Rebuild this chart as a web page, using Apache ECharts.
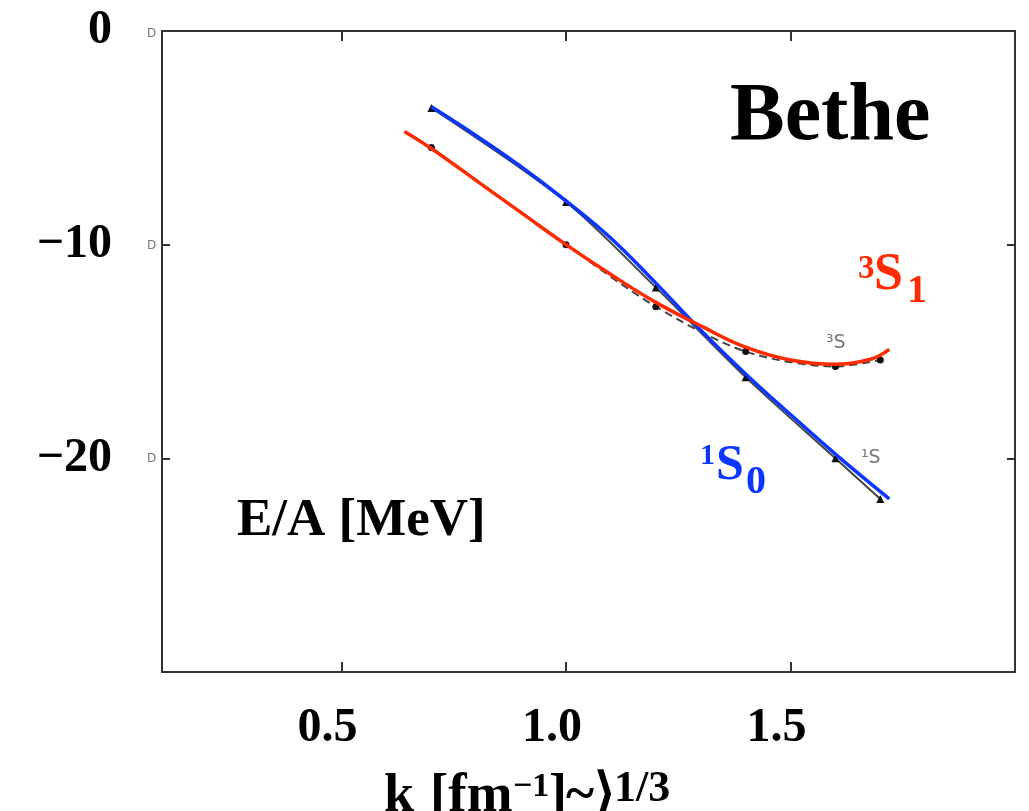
<!DOCTYPE html>
<html>
<head>
<meta charset="utf-8">
<script src="https://cdn.jsdelivr.net/npm/echarts@6/dist/echarts.min.js"></script>
<style>
  html, body { margin: 0; padding: 0; background: #fff; }
  #chart { width: 1029px; height: 811px; }
</style>
</head>
<body>
<div id="chart"></div>
<script>
// scanned data points (Bethe), k_F in fm^-1, E/A in MeV
const kF = [0.7, 1.0, 1.2, 1.4, 1.6, 1.7];
const scan1S0 = [-3.6, -8.0, -12.0, -16.2, -20.0, -21.9];
const scan3S1 = [-5.45, -10.0, -12.9, -15.0, -15.7, -15.4];

// coloured overlay curves
const fit1S0X = [0.7, 0.8, 0.9, 1.0, 1.1, 1.2, 1.3, 1.4, 1.5, 1.6, 1.72];
const fit1S0Y = [-3.55, -4.9, -6.35, -7.95, -9.7, -11.8, -14.0, -16.05, -17.95, -19.8, -21.9];
const fit3S1X = [0.64, 0.7, 0.8, 0.9, 1.0, 1.1, 1.2, 1.3, 1.4, 1.5, 1.6, 1.68, 1.72];
const fit3S1Y = [-4.7, -5.5, -7.0, -8.5, -10.0, -11.4, -12.7, -13.8, -14.8, -15.4, -15.6, -15.35, -14.9];

const xTicks = [0.5, 1.0, 1.5];
const yTicks = [0, -10, -20];
const yInnerTicks = [-10, -20];

const serif = '"Liberation Serif", "Times New Roman", serif';
const BLUE = '#0a36ff';
const RED = '#ff2a00';
const FRAME = '#333';

const zip = (xs, ys) => xs.map((x, i) => [x, ys[i]]);

function txt(x, y, text, size, color) {
  return {
    type: 'text',
    z: 50,
    style: {
      x: x, y: y, text: text,
      fill: color || '#000',
      font: `bold ${size}px ${serif}`,
      align: 'left',
      verticalAlign: 'middle'
    }
  };
}

function scanTxt(x, y, text, size) {
  return {
    type: 'text',
    z: 5,
    style: {
      x: x, y: y, text: text, fill: '#777',
      font: `${size}px "DejaVu Sans", sans-serif`,
      align: 'left', verticalAlign: 'middle'
    }
  };
}

const chart = echarts.init(document.getElementById('chart'), null, { renderer: 'canvas' });

const opt = {
  animation: false,
  backgroundColor: '#fff',
  grid: { left: 162, top: 31, right: 14, bottom: 139, containLabel: false },
  xAxis: [{
    type: 'value', min: 0.1, max: 2.0, position: 'bottom',
    splitLine: { show: false },
    axisLine: { show: true, onZero: false, lineStyle: { color: FRAME, width: 2 } },
    axisTick: { show: true, inside: true, length: 10, customValues: xTicks, lineStyle: { color: FRAME, width: 2 } },
    axisLabel: {
      show: true, customValues: xTicks, margin: 33,
      formatter: (v) => v.toFixed(1),
      color: '#000', fontFamily: serif, fontWeight: 'bold', fontSize: 48,
      padding: [0, 28, 0, 0]
    }
  }, {
    type: 'value', min: 0.1, max: 2.0, position: 'top',
    splitLine: { show: false },
    axisLine: { show: true, onZero: false, lineStyle: { color: FRAME, width: 2 } },
    axisTick: { show: true, inside: true, length: 10, customValues: xTicks, lineStyle: { color: FRAME, width: 2 } },
    axisLabel: { show: false }
  }],
  yAxis: [{
    type: 'value', min: -30, max: 0, position: 'left',
    splitLine: { show: false },
    axisLine: { show: true, onZero: false, lineStyle: { color: FRAME, width: 2 } },
    axisTick: { show: true, inside: true, length: 8, customValues: yInnerTicks, lineStyle: { color: FRAME, width: 2 } },
    axisLabel: {
      show: true, customValues: yTicks, margin: 50,
      formatter: (v) => (v < 0 ? '\u2212' + Math.abs(v) : String(v)),
      color: '#000', fontFamily: serif, fontWeight: 'bold', fontSize: 48
    }
  }, {
    type: 'value', min: -30, max: 0, position: 'right',
    splitLine: { show: false },
    axisLine: { show: true, onZero: false, lineStyle: { color: FRAME, width: 2 } },
    axisTick: { show: true, inside: true, length: 8, customValues: yInnerTicks, lineStyle: { color: FRAME, width: 2 } },
    axisLabel: { show: false }
  }],
  series: [
    {
      name: 'scan 1S', type: 'line', xAxisIndex: 0, yAxisIndex: 0,
      data: zip(kF, scan1S0), smooth: 0.3,
      lineStyle: { color: '#444', width: 2 },
      symbol: 'triangle', symbolSize: 8,
      itemStyle: { color: '#111' }, z: 2
    },
    {
      name: 'scan 3S', type: 'line', xAxisIndex: 0, yAxisIndex: 0,
      data: zip(kF, scan3S1), smooth: 0.3,
      lineStyle: { color: '#444', width: 2, type: [8, 5] },
      symbol: 'circle', symbolSize: 7,
      itemStyle: { color: '#111' }, z: 2
    },
    {
      name: '1S0', type: 'line', xAxisIndex: 0, yAxisIndex: 0,
      data: zip(fit1S0X, fit1S0Y), smooth: 0.4, showSymbol: false,
      lineStyle: { color: BLUE, width: 3.5 }, z: 4
    },
    {
      name: '3S1', type: 'line', xAxisIndex: 0, yAxisIndex: 0,
      data: zip(fit3S1X, fit3S1Y), smooth: 0.4, showSymbol: false,
      lineStyle: { color: RED, width: 3.5 }, z: 5
    }
  ],
  graphic: [
    txt(730, 118, 'Bethe', 82),
    txt(237, 521, 'E/A [MeV]', 53),
    // 3S1 label
    txt(858, 269, '3', 33, RED),
    txt(874, 276, 'S', 52, RED),
    txt(907, 292, '1', 40, RED),
    // 1S0 label
    txt(700, 456, '1', 30, BLUE),
    txt(716, 466, 'S', 50, BLUE),
    txt(746, 483, '0', 40, BLUE),
    // x axis title
    txt(384, 797, 'k', 54),
    txt(410, 822, 'F', 28),
    txt(430, 797, '[fm', 55),
    txt(513, 787, '\u22121', 34),
    txt(549, 797, ']', 54),
    txt(566, 797, '~', 54),
    txt(594, 797, '\u27E9', 54),
    txt(614, 790, '1/3', 44),
    // faint labels from the scanned figure
    scanTxt(826, 343, '\u00B3S', 19),
    scanTxt(861, 458, '\u00B9S', 19),
    scanTxt(147, 34, 'D', 12),
    scanTxt(147, 246, 'D', 12),
    scanTxt(147, 459, 'D', 12)
  ]
};

chart.setOption(opt);
</script>
</body>
</html>
